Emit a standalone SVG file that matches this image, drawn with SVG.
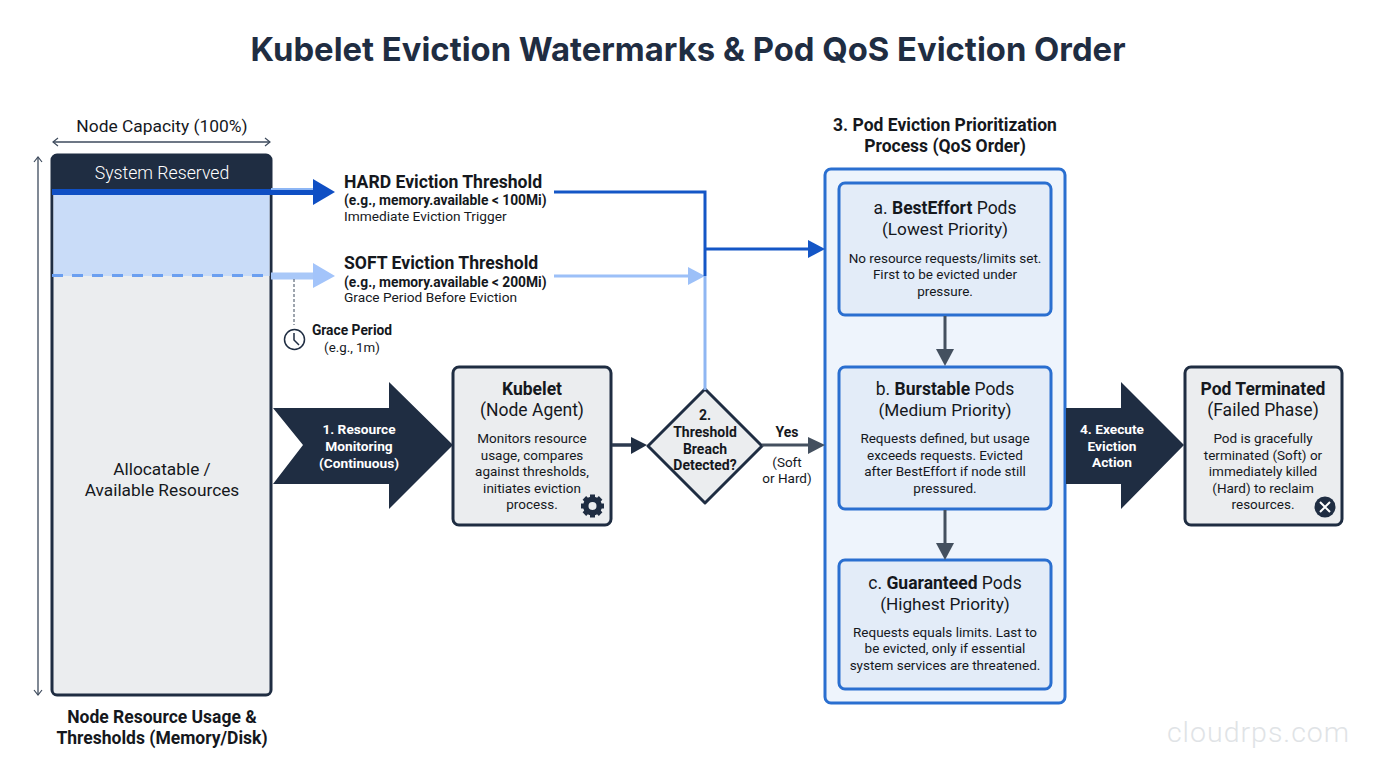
<svg xmlns="http://www.w3.org/2000/svg" width="1376" height="768" viewBox="0 0 1376 768">
<style>
text{font-family:Roboto,"Liberation Sans",sans-serif;fill:#15181d;text-anchor:middle}
.b{font-weight:700}
.s{font-size:13.5px}
.w{fill:#fff}
.l{text-anchor:start}
.box{fill:#ebedef;stroke:#1f2d42;stroke-width:3}
.pod{fill:#e3ecf8;stroke:#2a6fd0;stroke-width:3}
.thin{fill:none;stroke:#3d4a5c;stroke-width:1.3}
</style>
<defs>
<marker id="oa" markerWidth="10" markerHeight="10" refX="8" refY="5" orient="auto-start-reverse" markerUnits="userSpaceOnUse"><path d="M3 1L8 5L3 9" fill="none" stroke="#3d4a5c" stroke-width="1.2"/></marker>
</defs>
<rect width="1376" height="768" fill="#fff"/>
<text id="title" x="688" y="61" class="b" font-size="33" style="font-family:Inter,sans-serif;fill:#1f2d42" textLength="875" lengthAdjust="spacingAndGlyphs">Kubelet Eviction Watermarks &amp; Pod QoS Eviction Order</text>

<g id="node-capacity">
<text x="162" y="131.500" font-size="17.400">Node Capacity (100%)</text>
<rect x="52" y="155" width="219" height="540" rx="5" class="box"/>
<rect x="53.500" y="192" width="216" height="84" fill="#c9dcf8"/>
<path d="M52 192V160a5 5 0 0 1 5-5H266a5 5 0 0 1 5 5V192Z" fill="#1f2d42"/>
<rect x="52" y="189" width="219" height="6" fill="#0f4fc4"/>
<path d="M52 275.500H271" stroke="#6b9ff0" stroke-width="3" stroke-dasharray="11 9"/>
<text x="162" y="179" font-size="17.700" class="w" style="font-weight:300">System Reserved</text>
<text x="162" y="475" font-size="17.300">Allocatable /</text>
<text x="162" y="496" font-size="17.300">Available Resources</text>
<text x="162" y="723" font-size="17.500" class="b">Node Resource Usage &amp;</text>
<text x="162" y="744" font-size="17.500" class="b">Thresholds (Memory/Disk)</text>
</g>

<g id="hard-threshold">
<text x="344" y="188" font-size="17.600" class="b l">HARD Eviction Threshold</text>
<text x="344" y="205" font-size="13.800" class="b l">(e.g., memory.available &lt; 100Mi)</text>
<text x="344" y="221" font-size="13.700" class="l">Immediate Eviction Trigger</text>
</g>
<g id="soft-threshold">
<text x="344" y="269" font-size="17.600" class="b l">SOFT Eviction Threshold</text>
<text x="344" y="287" font-size="13.800" class="b l">(e.g., memory.available &lt; 200Mi)</text>
<text x="344" y="302" font-size="13.700" class="l">Grace Period Before Eviction</text>
</g>
<g id="grace-period">
<circle cx="294.500" cy="339.500" r="10" fill="none" stroke="#1f2d42" stroke-width="1.500"/>
<path d="M294 333V340L299 345" fill="none" stroke="#1f2d42" stroke-width="1.500"/>
<text x="352" y="335" font-size="13.800" class="b">Grace Period</text>
<text x="352" y="352" font-size="13.300">(e.g., 1m)</text>
</g>

<g id="step-1">
<path d="M273 408H389V382L453 445L389 509V484H273L303 445Z" fill="#1f2d42"/>
<text x="359" y="434" font-size="13.700" class="b w">1. Resource</text>
<text x="359" y="451" font-size="13.700" class="b w">Monitoring</text>
<text x="359" y="468" font-size="13.700" class="b w">(Continuous)</text>
</g>

<g id="kubelet">
<rect x="453" y="367" width="158" height="158" rx="6" class="box"/>
<text x="532" y="395" class="b" font-size="17.500">Kubelet</text>
<text x="532" y="416" font-size="17.500">(Node Agent)</text>
<text x="532" y="443" class="s">Monitors resource</text>
<text x="532" y="460" class="s">usage, compares</text>
<text x="532" y="476" class="s">against thresholds,</text>
<text x="532" y="493" class="s">initiates eviction</text>
<text x="532" y="509" class="s">process.</text>
<g id="gear" transform="translate(592.500 506)">
<circle r="7" fill="none" stroke="#1f2d42" stroke-width="5"/>
<path d="M-2.500-11.500H2.500V11.500H-2.500Z M-11.500-2.500H11.500V2.500H-11.500Z" fill="#1f2d42"/>
<path d="M-2.500-11.500H2.500V11.500H-2.500Z M-11.500-2.500H11.500V2.500H-11.500Z" fill="#1f2d42" transform="rotate(45)"/>
<circle r="4" fill="#ebedef"/>
</g>
</g>

<g id="decision">
<path d="M705 389L762 446L705 503L648 446Z" fill="#ebedef" stroke="#1f2d42" stroke-width="3" stroke-linejoin="round"/>
<text x="705" y="420" font-size="14" class="b">2.</text>
<text x="705" y="437" font-size="14" class="b">Threshold</text>
<text x="705" y="454" font-size="14" class="b">Breach</text>
<text x="705" y="470" font-size="14" class="b">Detected?</text>
</g>
<text x="787" y="437" font-size="14" class="b">Yes</text>
<text x="787" y="467" class="s">(Soft</text>
<text x="787" y="483" class="s">or Hard)</text>

<g id="qos-process">
<text x="945" y="131" font-size="17.500" class="b">3. Pod Eviction Prioritization</text>
<text x="945" y="152" font-size="17.500" class="b">Process (QoS Order)</text>
<rect x="825" y="169" width="240" height="534" rx="6" fill="#eef4fc" stroke="#2a6fd0" stroke-width="3"/>
</g>
<g id="pod-besteffort">
<rect x="839" y="183" width="212" height="132" rx="6" class="pod"/>
<text x="945" y="214" font-size="17.500">a. <tspan class="b">BestEffort</tspan> Pods</text>
<text x="945" y="235" font-size="17.200">(Lowest Priority)</text>
<text x="945" y="263" class="s">No resource requests/limits set.</text>
<text x="945" y="279" class="s">First to be evicted under</text>
<text x="945" y="296" class="s">pressure.</text>
</g>
<g id="pod-burstable">
<rect x="839" y="367" width="212" height="142" rx="6" class="pod"/>
<text x="945" y="395" font-size="17.500">b. <tspan class="b">Burstable</tspan> Pods</text>
<text x="945" y="416" font-size="17.200">(Medium Priority)</text>
<text x="945" y="443" class="s">Requests defined, but usage</text>
<text x="945" y="460" class="s">exceeds requests. Evicted</text>
<text x="945" y="476" class="s">after BestEffort if node still</text>
<text x="945" y="493" class="s">pressured.</text>
</g>
<g id="pod-guaranteed">
<rect x="839" y="560" width="212" height="129" rx="6" class="pod"/>
<text x="945" y="589" font-size="17.500">c. <tspan class="b">Guaranteed</tspan> Pods</text>
<text x="945" y="610" font-size="17.200">(Highest Priority)</text>
<text x="945" y="637" class="s">Requests equals limits. Last to</text>
<text x="945" y="653" class="s">be evicted, only if essential</text>
<text x="945" y="670" class="s">system services are threatened.</text>
</g>

<g id="step-4">
<path d="M1066 408H1121V382L1184 445L1121 509V484H1066Z" fill="#1f2d42"/>
<text x="1112" y="434" font-size="13.700" class="b w">4. Execute</text>
<text x="1112" y="451" font-size="13.700" class="b w">Eviction</text>
<text x="1112" y="467" font-size="13.700" class="b w">Action</text>
</g>

<g id="pod-terminated">
<rect x="1185" y="367" width="157" height="158" rx="6" class="box"/>
<text x="1263" y="395" class="b" font-size="17.500">Pod Terminated</text>
<text x="1263" y="416" font-size="17.500">(Failed Phase)</text>
<text x="1263" y="443" class="s">Pod is gracefully</text>
<text x="1263" y="460" class="s">terminated (Soft) or</text>
<text x="1263" y="476" class="s">immediately killed</text>
<text x="1263" y="493" class="s">(Hard) to reclaim</text>
<text x="1263" y="509" class="s">resources.</text>
<circle cx="1325" cy="507" r="10.500" fill="#1f2d42"/>
<path d="M1320 502L1330 512M1330 502L1320 512" stroke="#fff" stroke-width="2" fill="none"/>
</g>

<g id="connectors">
<path d="M53 142H270" class="thin" marker-start="url(#oa)" marker-end="url(#oa)"/>
<path d="M38 157V695" class="thin" marker-start="url(#oa)" marker-end="url(#oa)"/>
<rect x="271" y="188" width="45" height="4" fill="#8db6f5"/>
<rect x="271" y="190" width="45" height="5" fill="#0f4fc4"/>
<path d="M313 179L335 192L313 205Z" fill="#0f4fc4"/>
<path d="M271 276H316" stroke="#a9c8f8" stroke-width="7" fill="none"/>
<path d="M313 263L335 276L313 288Z" fill="#a3c4fa"/>
<path d="M294 279V325" stroke="#3d4a5c" stroke-width="1" stroke-dasharray="3 2" fill="none"/>
<path d="M554 276H690" stroke="#9cc0f8" stroke-width="3" fill="none"/>
<path d="M688 267L705 276L688 285Z" fill="#9cc0f8"/>
<path d="M705 276V390" stroke="#8fb6f2" stroke-width="3" fill="none"/>
<path d="M554 192H705V276" stroke="#1456c6" stroke-width="3" fill="none"/>
<path d="M705 249H810" stroke="#1456c6" stroke-width="3" fill="none"/>
<path d="M808 240L825 249L808 258Z" fill="#1456c6"/>
<path d="M612 445H634" stroke="#2c3a4f" stroke-width="3.500" fill="none"/>
<path d="M631 437L647 445L631 454Z" fill="#1f2d42"/>
<path d="M762 445H810" stroke="#44505f" stroke-width="3" fill="none"/>
<path d="M808 437L825 445L808 454Z" fill="#44505f"/>
<path d="M945 316V350" stroke="#44505f" stroke-width="3" fill="none"/>
<path d="M936 349L945 366L954 349Z" fill="#44505f"/>
<path d="M945 510V544" stroke="#44505f" stroke-width="3" fill="none"/>
<path d="M936 543L945 560L954 543Z" fill="#44505f"/>
</g>

<text id="watermark" x="1258.500" y="742" font-size="28.500" style="fill:#e0e3e6;font-weight:300;letter-spacing:1px">cloudrps.com</text>
</svg>
